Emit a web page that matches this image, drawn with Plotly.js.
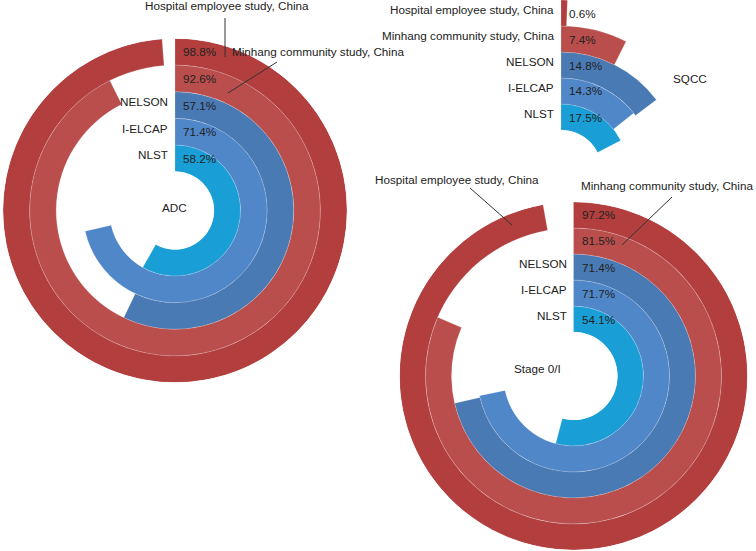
<!DOCTYPE html>
<html>
<head>
<meta charset="utf-8">
<script src="https://cdn.plot.ly/plotly-3.0.1.min.js"></script>
<style>html,body{margin:0;padding:0;background:#fff}#chart{width:756px;height:551px}</style>
</head>
<body>
<div id="chart"></div>
<script>
// ---- data (percent of detected lung cancers) ----
const studies = ["NLST", "I-ELCAP", "NELSON", "Minhang community study, China", "Hospital employee study, China"];
const adcValues = [58.2, 71.4, 57.1, 92.6, 98.8];
const sqccValues = [17.5, 14.3, 14.8, 7.4, 0.6];
const stageValues = [54.1, 71.7, 71.4, 81.5, 97.2];
const panelTitles = ["ADC", "SQCC", "Stage 0/I"];

// ---- styling ----
const colors = ["#1a9ed6", "#5087c9", "#4a7ab3", "#b94e4c", "#b23f3e"];
const W = 756, H = 551;
const FONT = {family: "Liberation Sans, Arial, Helvetica, sans-serif", size: 11.7, color: "#222"};
const px = x => x / W;
const py = y => 1 - y / H;

// panel geometry in pixels: center x, center y, outer radius, hole radius
const panels = [
  {key: "polar", vals: adcValues, cx: 175, cy: 210.5, R: 172, hole: 39},
  {key: "polar2", vals: sqccValues, cx: 561, cy: 171, R: 171, hole: 41},
  {key: "polar3", vals: stageValues, cx: 573.5, cy: 376, R: 174, hole: 44}
];

const traces = [];
const layout = {
  width: W, height: H,
  margin: {l: 0, r: 0, t: 0, b: 0},
  paper_bgcolor: "#fff",
  showlegend: false,
  font: FONT,
  annotations: [],
  shapes: []
};

function ringPix(p, rr) { return p.hole + rr * (p.R - p.hole) / 5; }

panels.forEach((p, k) => {
  const idx = studies.map((_, i) => i);
  traces.push({
    type: "barpolar",
    subplot: p.key,
    r: idx.map(() => 1),
    base: idx,
    theta: p.vals.map(v => v * 3.6 / 2),
    width: p.vals.map(v => v * 3.6),
    marker: {color: colors, line: {color: "rgba(255,255,255,0.3)", width: 0.6}},
    hoverinfo: "skip"
  });
  layout[p.key] = {
    domain: {x: [px(p.cx - p.R), px(p.cx + p.R)], y: [py(p.cy + p.R), py(p.cy - p.R)]},
    hole: p.hole / p.R,
    bgcolor: "rgba(0,0,0,0)",
    barmode: "overlay",
    radialaxis: {range: [0, 5], visible: false, showgrid: false},
    angularaxis: {direction: "clockwise", rotation: 90, visible: false, showgrid: false}
  };
  // percent labels in each ring, just right of the start line
  p.vals.forEach((v, i) => {
    layout.annotations.push({
      xref: "paper", yref: "paper", x: px(p.cx + 6), y: py(p.cy - ringPix(p, i + 0.5)),
      text: v.toFixed(1) + "%", showarrow: false, xanchor: "left", yanchor: "middle", font: FONT
    });
  });
});

// ring name labels left of the start line
function ringLabel(p, i) {
  layout.annotations.push({
    xref: "paper", yref: "paper", x: px(p.cx - 5), y: py(p.cy - ringPix(p, i + 0.63)),
    text: studies[i], showarrow: false, xanchor: "right", yanchor: "middle", font: FONT
  });
}
[0, 1, 2].forEach(i => ringLabel(panels[0], i));
[0, 1, 2, 3, 4].forEach(i => ringLabel(panels[1], i));
[0, 1, 2].forEach(i => ringLabel(panels[2], i));

// panel titles
layout.annotations.push({xref: "paper", yref: "paper", x: px(160), y: py(208), text: panelTitles[0], showarrow: false, font: FONT});
layout.annotations.push({xref: "paper", yref: "paper", x: px(709), y: py(70), text: panelTitles[1], showarrow: false, font: FONT});
layout.annotations.push({xref: "paper", yref: "paper", x: px(563), y: py(377), text: panelTitles[2], showarrow: false, font: FONT});

// outside labels with leader lines
function outLabel(text, x, y, xanchor) {
  layout.annotations.push({xref: "paper", yref: "paper", x: px(x), y: py(y), text: text, showarrow: false, xanchor: xanchor, yanchor: "middle", font: FONT});
}
function leader(x0, y0, x1, y1) {
  layout.shapes.push({type: "line", xref: "paper", yref: "paper", x0: px(x0), y0: py(y0), x1: px(x1), y1: py(y1), line: {color: "#333", width: 1}});
}
// ADC
outLabel(studies[4], 227, 6, "center");
leader(225, 18, 225, 57);
outLabel(studies[3], 230, 51, "left");
leader(277, 62, 228, 93);
// Stage 0/I
outLabel(studies[4], 373, 179, "left");
leader(470, 188, 512, 225);
outLabel(studies[3], 755, 185, "right");
leader(672, 197, 622, 245);

Plotly.newPlot("chart", traces, layout, {staticPlot: true, displayModeBar: false});
</script>
</body>
</html>
